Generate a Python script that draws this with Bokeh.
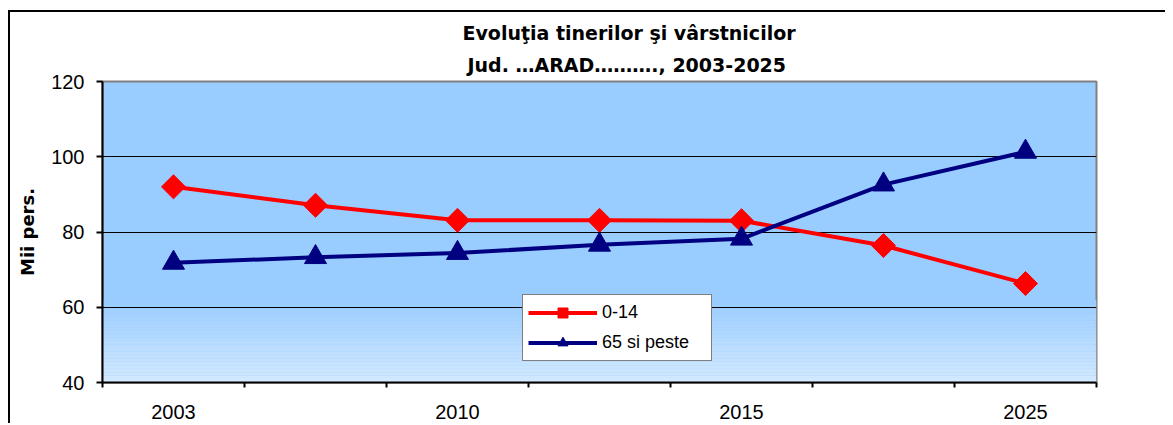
import numpy as np
from bokeh.plotting import figure
from bokeh.models import FixedTicker, Legend, LegendItem, Title, Range1d
from bokeh.embed import file_html
from bokeh.resources import INLINE

# ---- data ----
tick_labels = ["2003", "", "2010", "", "2015", "", "2025"]
young = [92.0, 87.1, 83.1, 83.1, 83.0, 76.4, 66.3]
elderly = [71.8, 73.3, 74.4, 76.6, 78.2, 92.6, 101.3]
series_names = ["0-14", "65 si peste"]
y_ticks = [40, 60, 80, 100, 120]
title_lines = ["Evoluţia tinerilor şi vârstnicilor", "Jud. …ARAD………., 2003-2025"]
y_label = "Mii pers."

x = list(range(len(tick_labels)))

p = figure(frame_width=994, frame_height=301,
           min_border_left=92, min_border_right=69, min_border_top=69, min_border_bottom=41,
           x_range=Range1d(-0.5, len(x) - 0.5), y_range=Range1d(y_ticks[0], y_ticks[-1]),
           output_backend="svg", toolbar_location=None)
p.styles = {"border-top": "2px solid black", "border-left": "2px solid black",
            "margin-top": "10px", "margin-left": "8px"}

p.background_fill_color = "#99CCFF"
p.border_fill_color = "white"
p.outline_line_color = "#808080"
p.outline_line_width = 2

# background gradient near the bottom of the plot area
n = 24
g0, g1 = y_ticks[0], y_ticks[1] + 2
edges = np.linspace(g0, g1, n + 1)
c_bot = np.array([0xD4, 0xEA, 0xFF])
c_top = np.array([0x99, 0xCC, 0xFF])
cols = []
for i in range(n):
    t = (i + 0.5) / n
    c = (c_bot * (1 - t) + c_top * t).astype(int)
    cols.append("#%02x%02x%02x" % tuple(c))
p.quad(left=-0.5, right=len(x) - 0.5, bottom=edges[:-1], top=edges[1:],
       fill_color=cols, line_color=None, level="image")

# titles
t2 = Title(text=title_lines[1], align="left", offset=365, text_font="DejaVu Sans",
           text_font_size="19px", text_font_style="bold", text_color="black", standoff=12)
p.add_layout(t2, "above")
t1 = Title(text=title_lines[0], align="left", offset=360, text_font="DejaVu Sans",
           text_font_size="19px", text_font_style="bold", text_color="black", standoff=4)
p.add_layout(t1, "above")

# series
r1l = p.line(x, young, line_color="#FF0000", line_width=4)
r1m = p.scatter(x, young, marker="square", angle=np.pi / 4, size=17,
                fill_color="#FF0000", line_color="#FF0000")
r2l = p.line(x, elderly, line_color="#000080", line_width=4)
r2m = p.scatter(x, elderly, marker="triangle", size=22,
                fill_color="#000080", line_color="#000080")

# axes
xa = p.xaxis[0]
xa.ticker = FixedTicker(ticks=[i for i, l in enumerate(tick_labels) if l],
                        minor_ticks=[i - 0.5 for i in range(len(x) + 1)])
xa.major_label_overrides = {i: l for i, l in enumerate(tick_labels) if l}
xa.major_tick_out = 0
xa.major_tick_in = 0
xa.minor_tick_out = 5
xa.minor_tick_in = 0
xa.minor_tick_line_width = 2
xa.minor_tick_line_color = "black"
xa.axis_line_width = 2
xa.axis_line_color = "black"
xa.major_label_standoff = 17
xa.major_label_text_font = "Liberation Sans"
xa.major_label_text_font_size = "20px"
xa.major_label_text_color = "black"

ya = p.yaxis[0]
ya.ticker = FixedTicker(ticks=y_ticks, minor_ticks=[])
ya.major_tick_out = 6
ya.major_tick_in = 0
ya.major_tick_line_width = 2
ya.major_tick_line_color = "black"
ya.minor_tick_out = 0
ya.minor_tick_in = 0
ya.axis_line_width = 2
ya.axis_line_color = "black"
ya.major_label_standoff = 12
ya.major_label_text_font = "Liberation Sans"
ya.major_label_text_font_size = "20px"
ya.major_label_text_color = "black"
ya.axis_label = y_label
ya.axis_label_text_font = "DejaVu Sans"
ya.axis_label_text_font_style = "bold"
ya.axis_label_text_font_size = "18px"
ya.axis_label_text_color = "black"
ya.axis_label_standoff = 10

p.xgrid.visible = False
p.ygrid.ticker = FixedTicker(ticks=y_ticks[1:-1])
p.ygrid.grid_line_color = "black"
p.ygrid.grid_line_width = 1

legend = Legend(items=[LegendItem(label=series_names[0], renderers=[r1l, r1m]),
                       LegendItem(label=series_names[1], renderers=[r2l, r2m])],
                location=(420, 21), orientation="vertical",
                border_line_color="black", border_line_width=1,
                background_fill_color="white", background_fill_alpha=1.0,
                label_text_font="Liberation Sans", label_text_font_size="18px",
                label_text_color="black",
                glyph_width=69, glyph_height=25, label_standoff=5,
                padding=5, spacing=5, margin=0, label_width=104)
p.add_layout(legend)

open("out.html", "w").write(file_html(p, INLINE))
